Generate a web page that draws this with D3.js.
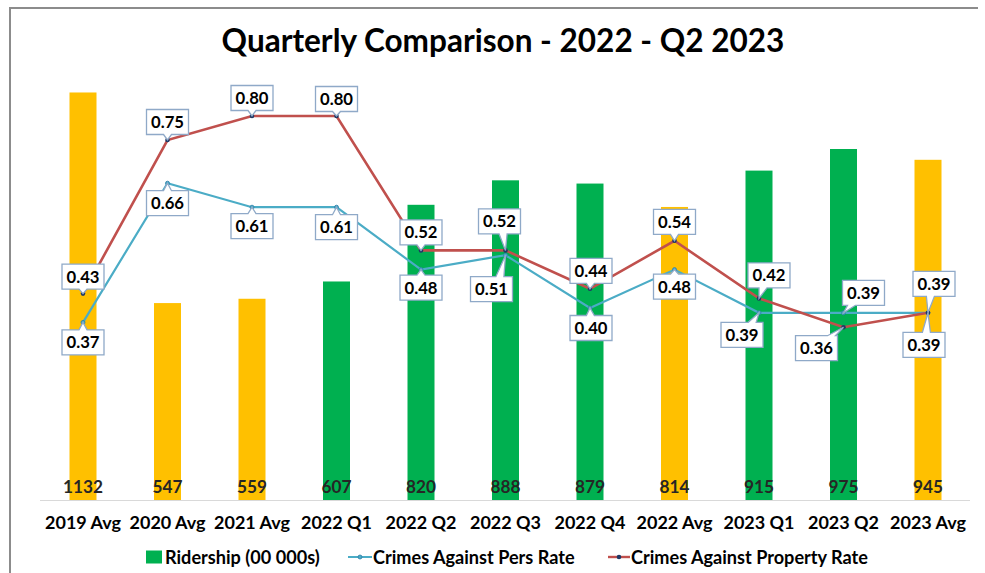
<!DOCTYPE html>
<html>
<head>
<meta charset="utf-8">
<script src="https://cdn.jsdelivr.net/npm/d3@7"></script>
<style>
  body { margin: 0; background: #fff; }
  text { font-family: Lato, "Open Sans", sans-serif; font-weight: 700; }
</style>
</head>
<body>
<svg id="chart" width="985" height="573"></svg>
<script>
// data
const categories = ["2019 Avg", "2020 Avg", "2021 Avg", "2022 Q1", "2022 Q2", "2022 Q3",
                    "2022 Q4", "2022 Avg", "2023 Q1", "2023 Q2", "2023 Avg"];
const ridership = [1132, 547, 559, 607, 820, 888, 879, 814, 915, 975, 945];
const persRate = [0.37, 0.66, 0.61, 0.61, 0.48, 0.51, 0.40, 0.48, 0.39, 0.39, 0.39];
const propertyRate = [0.43, 0.75, 0.80, 0.80, 0.52, 0.52, 0.44, 0.54, 0.42, 0.36, 0.39];
const seriesNames = ["Ridership (00 000s)", "Crimes Against Pers Rate", "Crimes Against Property Rate"];

// where each callout box sits relative to its point (layout only)
const propLabelShift = [[0,-17],[0,-18],[0,-18],[0,-17],[0,-18],[-6,-29],[1,-18],[0,-19],[10,-23],[-27,21],[6,-29]];
const persLabelShift = [[0,20],[0,20],[0,19],[0,20],[0,18],[-14,34],[1,20],[0,17],[-17,22],[20,-20],[-4,32]];

const svg = d3.select("#chart");
const W = 985, H = 573;
const plotTop = 68, plotBottom = 500;

const x = d3.scaleBand().domain(categories).range([40.75, 970.25]).padding(0);
const cx = d => x(d) + x.bandwidth() / 2;
const barW = 27;
const yBar = d3.scaleLinear().domain([0, 1200]).range([plotBottom, plotTop]);
const yRate = d3.scaleLinear().domain([0, 0.9]).range([plotBottom, plotTop]);

const yellow = "#FFC000", green = "#00B050";
const teal = "#4BACC6", red = "#C0504D";

// measure a string so the fallback font can be sized to the reference widths
function fit(str, target, base) {
  const t = svg.append("text").attr("font-size", base).text(str);
  const len = t.node().getComputedTextLength();
  t.remove();
  return base * target / len;
}

// frame
svg.append("path")
  .attr("d", `M10,${H} V8 H978`)
  .attr("fill", "none").attr("stroke", "#8c8c8c").attr("stroke-width", 2);

// title
svg.append("text")
  .attr("x", 503).attr("y", 52)
  .attr("text-anchor", "middle")
  .attr("font-size", fit("Quarterly Comparison - 2022 - Q2 2023", 563, 30))
  .attr("fill", "#000")
  .text("Quarterly Comparison - 2022 - Q2 2023");

// bars
svg.append("g").selectAll("rect")
  .data(categories)
  .join("rect")
  .attr("x", d => cx(d) - barW / 2)
  .attr("width", barW)
  .attr("y", (d, i) => yBar(ridership[i]))
  .attr("height", (d, i) => plotBottom - yBar(ridership[i]))
  .attr("fill", d => d.endsWith("Avg") ? yellow : green);

// baseline
svg.append("line")
  .attr("x1", 40).attr("x2", 970).attr("y1", plotBottom + 0.5).attr("y2", plotBottom + 0.5)
  .attr("stroke", "#d9d9d9").attr("stroke-width", 1);

// bar value labels
const valSize = fit("1132", 40, 14);
svg.append("g").selectAll("text")
  .data(categories)
  .join("text")
  .attr("x", d => cx(d)).attr("y", 493)
  .attr("text-anchor", "middle")
  .attr("font-size", valSize)
  .attr("fill", "#262626")
  .text((d, i) => ridership[i]);

// x axis
const xAxis = svg.append("g")
  .attr("transform", `translate(0,${plotBottom})`)
  .call(d3.axisBottom(x).tickSize(0).tickPadding(16));
xAxis.select(".domain").remove();
xAxis.selectAll("text")
  .attr("font-size", fit("2019 Avg", 76, 14))
  .attr("fill", "#000")
  .style("font-family", 'Lato, "Open Sans", sans-serif')
  .style("font-weight", 700);

// lines
const lineGen = arr => d3.line()
  .x(d => cx(d))
  .y((d, i) => yRate(arr[i]))(categories);

svg.append("path").attr("d", lineGen(persRate))
  .attr("fill", "none").attr("stroke", teal).attr("stroke-width", 2.2);
svg.append("path").attr("d", lineGen(propertyRate))
  .attr("fill", "none").attr("stroke", red).attr("stroke-width", 2.6);

svg.append("g").selectAll("circle")
  .data(categories).join("circle")
  .attr("cx", d => cx(d)).attr("cy", (d, i) => yRate(persRate[i]))
  .attr("r", 2).attr("fill", teal).attr("stroke", "#2f7fa8").attr("stroke-width", 0.8);
svg.append("g").selectAll("circle")
  .data(categories).join("circle")
  .attr("cx", d => cx(d)).attr("cy", (d, i) => yRate(propertyRate[i]))
  .attr("r", 2.3).attr("fill", "#203864");

// callouts
function calloutPath(bx, by, w, h, px, py) {
  const x0 = bx - w / 2, x1 = bx + w / 2, y0 = by - h / 2, y1 = by + h / 2;
  const tw = 4;
  const clamp = (v, a, b) => Math.max(a, Math.min(b, v));
  if (py > y1) {
    const c = clamp(bx + (px - bx) * 0.6, x0 + 6, x1 - 6);
    return `M${x0},${y0}H${x1}V${y1}H${c + tw}L${px},${py}L${c - tw},${y1}H${x0}Z`;
  }
  if (py < y0) {
    const c = clamp(bx + (px - bx) * 0.6, x0 + 6, x1 - 6);
    return `M${x0},${y0}H${c - tw}L${px},${py}L${c + tw},${y0}H${x1}V${y1}H${x0}Z`;
  }
  const c = clamp(py, y0 + 6, y1 - 6);
  if (px > x1) return `M${x0},${y0}H${x1}V${c - tw}L${px},${py}L${x1},${c + tw}V${y1}H${x0}Z`;
  return `M${x0},${y0}H${x1}V${y1}H${x0}V${c + tw}L${px},${py}L${x0},${c - tw}Z`;
}

const labelSize = fit("0.43", 33, 15);
function drawCallouts(values, shifts) {
  const g = svg.append("g");
  categories.forEach((c, i) => {
    const px = cx(c), py = yRate(values[i]);
    const bx = px + shifts[i][0], by = py + shifts[i][1];
    const bw = 42, bh = 25;
    g.append("path")
      .attr("d", calloutPath(bx, by, bw, bh, px, py))
      .attr("fill", "#fff").attr("stroke", "#8fa9c8").attr("stroke-width", 1.3);
    g.append("text")
      .attr("x", bx).attr("y", by)
      .attr("dy", "0.36em")
      .attr("text-anchor", "middle")
      .attr("font-size", labelSize)
      .attr("fill", "#000")
      .text(values[i].toFixed(2));
  });
}
drawCallouts(persRate, persLabelShift);
drawCallouts(propertyRate, propLabelShift);

// legend
const legSize = fit(seriesNames[2], 237, 15);
const leg = svg.append("g").attr("transform", "translate(0,557)");
leg.append("rect").attr("x", 146).attr("y", -6.5).attr("width", 16).attr("height", 13).attr("fill", green);
leg.append("text").attr("x", 165).attr("dy", "0.36em").attr("font-size", legSize).text(seriesNames[0]);

leg.append("line").attr("x1", 348).attr("x2", 372).attr("stroke", teal).attr("stroke-width", 2);
leg.append("circle").attr("cx", 360).attr("r", 2).attr("fill", teal).attr("stroke", "#2f7fa8").attr("stroke-width", 0.8);
leg.append("text").attr("x", 373).attr("dy", "0.36em").attr("font-size", legSize).text(seriesNames[1]);

leg.append("line").attr("x1", 608).attr("x2", 630).attr("stroke", red).attr("stroke-width", 2.4);
leg.append("circle").attr("cx", 619).attr("r", 2.3).attr("fill", "#203864");
leg.append("text").attr("x", 631).attr("dy", "0.36em").attr("font-size", legSize).text(seriesNames[2]);
</script>
</body>
</html>
